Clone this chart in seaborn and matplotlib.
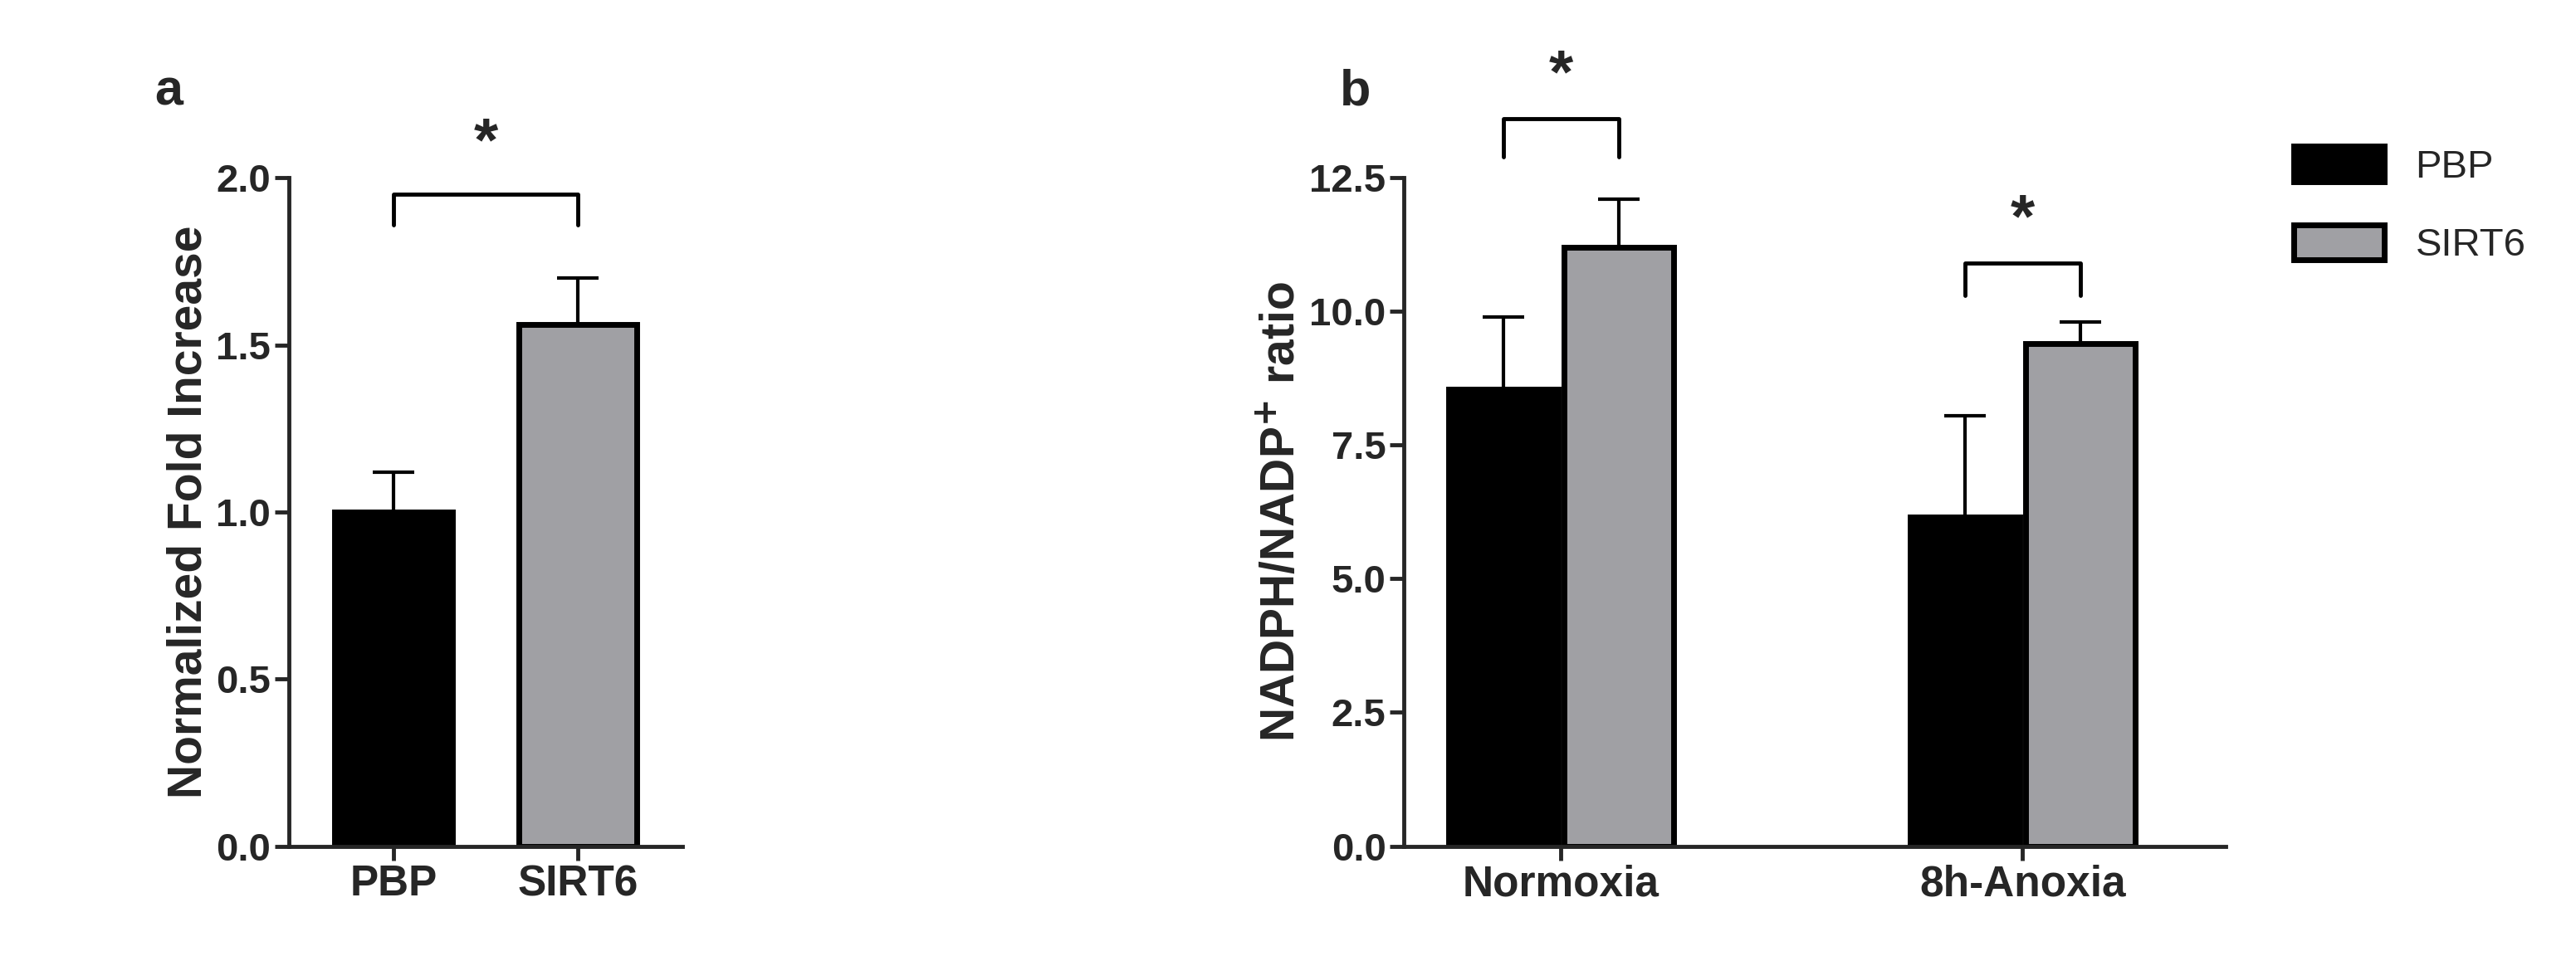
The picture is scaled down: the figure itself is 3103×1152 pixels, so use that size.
import matplotlib
matplotlib.use('Agg')
import matplotlib.pyplot as plt
import seaborn as sns
import pandas as pd
import numpy as np

# panel a
a_groups = ['PBP', 'SIRT6']
a_means = [1.0, 1.56]
a_errs = [0.12, 0.14]

# panel b
b_conditions = ['Normoxia', '8h-Anoxia']
b_groups = ['PBP', 'SIRT6']
b_means = {'PBP': [8.55, 6.15], 'SIRT6': [11.2, 9.4]}
b_errs = {'PBP': [1.35, 1.9], 'SIRT6': [0.9, 0.4]}

colors = {'PBP': '#000000', 'SIRT6': '#a0a0a4'}

sns.set_style('ticks')
plt.rcParams['font.family'] = ['Arial', 'Liberation Sans', 'DejaVu Sans']
plt.rcParams['font.weight'] = 'bold'
plt.rcParams['axes.labelweight'] = 'bold'

fig = plt.figure(figsize=(31.03, 11.52), dpi=100)
ax1 = fig.add_axes([0.112, 0.115, 0.153, 0.699])
ax2 = fig.add_axes([0.545, 0.115, 0.319, 0.699])

def style_axis(ax):
    for s in ['top', 'right']:
        ax.spines[s].set_visible(False)
    for s in ['left', 'bottom']:
        ax.spines[s].set_linewidth(3.5)
    ax.tick_params(width=3.5, length=12)
    ax.tick_params(axis='x', labelsize=37)
    ax.tick_params(axis='y', labelsize=34)
    for t in ax.get_xticklabels() + ax.get_yticklabels():
        t.set_fontweight('bold')

def bracket(ax, x0, x1, y, drop, star_y):
    ax.plot([x0, x0, x1, x1], [y - drop, y, y, y - drop], color='black', lw=3.5, clip_on=False)
    ax.text((x0 + x1) / 2, star_y, '*', ha='center', va='center', fontsize=54, fontweight='bold', clip_on=False)

# ---- panel a
df_a = pd.DataFrame({'group': a_groups, 'value': a_means})
sns.barplot(data=df_a, x='group', y='value', hue='group', palette=colors, width=0.64,
            edgecolor='black', linewidth=5, legend=False, ax=ax1)
for i, p in enumerate(ax1.patches):
    cx = p.get_x() + p.get_width() / 2
    ax1.errorbar(cx, a_means[i], yerr=[[0], [a_errs[i]]], color='black', capsize=18,
                 elinewidth=3, capthick=3, zorder=0)
ax1.set_xlim(-0.57, 1.57)
ax1.set_ylim(0, 2.0)
ax1.set_yticks([0, 0.5, 1.0, 1.5, 2.0])
ax1.set_yticklabels(['0.0', '0.5', '1.0', '1.5', '2.0'])
ax1.set_xlabel('')
ax1.set_ylabel('Normalized Fold Increase', fontsize=41, fontweight='bold')
style_axis(ax1)
bracket(ax1, 0, 1, 1.95, 0.09, 2.1)
fig.text(0.06, 0.89, 'a', fontsize=44, fontweight='bold')

# ---- panel b
rows = []
for g in b_groups:
    for c, v in zip(b_conditions, b_means[g]):
        rows.append({'condition': c, 'group': g, 'value': v})
df_b = pd.DataFrame(rows)
sns.barplot(data=df_b, x='condition', y='value', hue='group', palette=colors, width=0.5,
            gap=0.05, edgecolor='black', linewidth=5, ax=ax2)
centers = {}
for g, cont in zip(b_groups, ax2.containers):
    for j, p in enumerate(cont.patches):
        cx = p.get_x() + p.get_width() / 2
        centers[(g, j)] = cx
        ax2.errorbar(cx, b_means[g][j], yerr=[[0], [b_errs[g][j]]], color='black', capsize=18,
                     elinewidth=3, capthick=3, zorder=0)
ax2.set_xlim(-0.34, 1.44)
ax2.set_ylim(0, 12.5)
ax2.set_yticks([0, 2.5, 5.0, 7.5, 10.0, 12.5])
ax2.set_yticklabels(['0.0', '2.5', '5.0', '7.5', '10.0', '12.5'])
ax2.set_xlabel('')
ax2.set_ylabel('NADPH/NADP$^{\\mathbf{+}}$ ratio', fontsize=41, fontweight='bold')
style_axis(ax2)
bracket(ax2, centers[('PBP', 0)], centers[('SIRT6', 0)], 13.6, 0.7, 14.4)
bracket(ax2, centers[('PBP', 1)], centers[('SIRT6', 1)], 10.9, 0.6, 11.7)
leg = ax2.legend(loc='upper left', bbox_to_anchor=(1.04, 1.1), frameon=False, fontsize=34,
                 handlelength=2.3, handleheight=1.0, labelspacing=1.0)
for t in leg.get_texts():
    t.set_fontweight('normal')
fig.text(0.52, 0.89, 'b', fontsize=44, fontweight='bold')

fig.savefig('out.png', dpi=100)
